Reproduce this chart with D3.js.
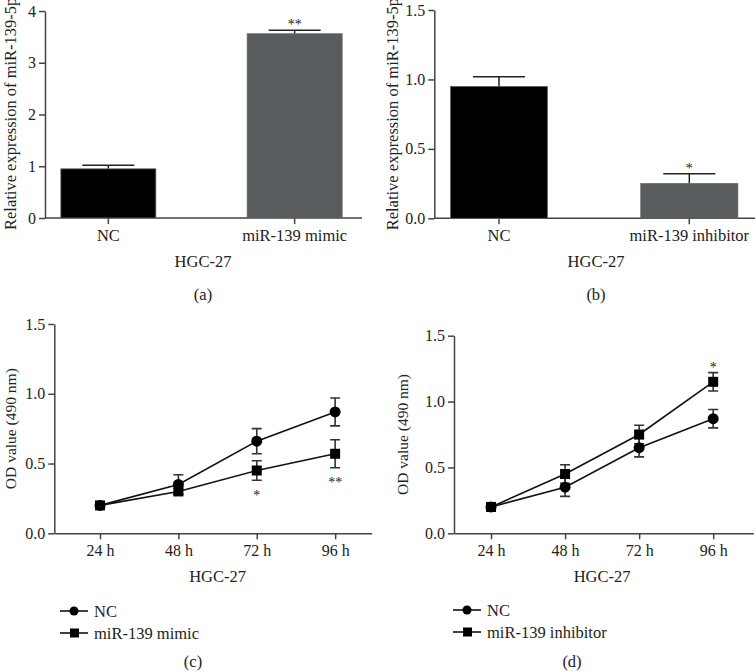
<!DOCTYPE html>
<html><head><meta charset="utf-8">
<script src="https://cdn.jsdelivr.net/npm/d3@7"></script>
<style>body{margin:0;background:#fff}svg{display:block}text{font-family:"Liberation Serif","Times New Roman",serif;fill:#222}</style>
</head><body>
<svg id="c" width="755" height="672"></svg>
<script>
// ---- data ----
const barCatsA = ["NC", "miR-139 mimic"];
const barValsA = [0.95, 3.56];
const barErrA = [0.07, 0.07];
const barStarsA = ["", "**"];
const yTicksA = [0, 1, 2, 3, 4];

const barCatsB = ["NC", "miR-139 inhibitor"];
const barValsB = [0.95, 0.25];
const barErrB = [0.07, 0.07];
const barStarsB = ["", "*"];
const yTicksB = [0, 0.5, 1.0, 1.5];

const hours = [24, 48, 72, 96];
const hourLabels = ["24 h", "48 h", "72 h", "96 h"];
const ncC = [0.20, 0.35, 0.66, 0.87];
const ncErrC = [0, 0.07, 0.09, 0.10];
const mimicC = [0.20, 0.30, 0.45, 0.57];
const mimicErrC = [0, 0.02, 0.07, 0.10];
const starsC = ["", "", "*", "**"];

const ncD = [0.20, 0.35, 0.65, 0.87];
const ncErrD = [0, 0.07, 0.07, 0.07];
const inhD = [0.20, 0.45, 0.75, 1.15];
const inhErrD = [0, 0.07, 0.07, 0.07];
const starsD = ["", "", "", "*"];
const yTicksLine = [0, 0.5, 1.0, 1.5];

const FS = 16.5;
const TFS = 16;
const FONT = '"Liberation Serif","Times New Roman",serif';
const svg = d3.select("#c");
const AX = "#444";

function styleAxis(g, isX) {
  g.attr("font-family", FONT).attr("font-size", isX ? FS : TFS);
  g.selectAll("path").attr("stroke", AX).attr("stroke-width", 1.5);
  g.selectAll("line").attr("stroke", AX).attr("stroke-width", 1.5);
  g.selectAll("text").attr("font-size", isX ? FS : TFS).attr("fill", "#222").attr("font-family", FONT);
}
function txt(g, x, y, s, size) {
  return g.append("text").attr("x", x).attr("y", y).attr("text-anchor", "middle")
    .attr("font-size", size || FS).attr("font-family", FONT).attr("fill", "#222").text(s);
}

function barPanel(o) {
  const g = svg.append("g");
  const y = d3.scaleLinear().domain(o.ydom).range([o.y0, o.y1]);
  const x = d3.scaleBand().domain(o.cats).range([o.xl, o.xr]).paddingInner(0.49).paddingOuter(0.085);
  const ya = g.append("g").attr("transform", `translate(${o.xl},0)`)
    .call(d3.axisLeft(y).tickValues(o.ticks).tickFormat(o.fmt).tickSize(6).tickSizeOuter(0));
  styleAxis(ya, false);
  const xa = g.append("g").attr("transform", `translate(0,${o.y0})`)
    .call(d3.axisBottom(x).tickSize(6).tickSizeOuter(0));
  styleAxis(xa, true);
  xa.select("path").attr("d", `M${o.xl},0H${o.axr}`);
  xa.selectAll("text").attr("dy", "0.85em");
  const colors = ["#000", "#595c5f"];
  o.cats.forEach((c, i) => {
    const cx = x(c) + x.bandwidth() / 2;
    const top = y(o.vals[i] + o.err[i]);
    g.append("line").attr("x1", cx).attr("x2", cx).attr("y1", y(o.vals[i])).attr("y2", top)
      .attr("stroke", "#222").attr("stroke-width", 1.5);
    g.append("line").attr("x1", cx - 26).attr("x2", cx + 26).attr("y1", top).attr("y2", top)
      .attr("stroke", "#222").attr("stroke-width", 1.5);
    g.append("rect").attr("x", x(c)).attr("width", x.bandwidth()).attr("y", y(o.vals[i]))
      .attr("height", y(0) - y(o.vals[i])).attr("fill", colors[i]).attr("stroke", "#666").attr("stroke-width", 0.8);
    if (o.stars[i]) txt(g, cx, top - 1, o.stars[i], 14).attr("fill", "#333");
  });
  g.append("text").attr("transform", `translate(${o.ylx},${o.y0 + 12}) rotate(-90)`).attr("text-anchor", "start")
    .attr("dy", "0.35em").attr("font-size", FS).attr("font-family", FONT).attr("fill", "#222").text(o.ylabel);
  txt(g, o.midx, o.y0 + 49, "HGC-27");
  txt(g, o.midx, o.y0 + 82, o.tag);
}

barPanel({cats: barCatsA, vals: barValsA, err: barErrA, stars: barStarsA, ydom: [0, 4], ticks: yTicksA, fmt: d3.format("d"),
  y0: 218, y1: 11, xl: 45, xr: 358, axr: 362, ylx: 10, midx: 203, ylabel: "Relative expression of miR-139-5p", tag: "(a)"});
barPanel({cats: barCatsB, vals: barValsB, err: barErrB, stars: barStarsB, ydom: [0, 1.5], ticks: yTicksB, fmt: d3.format(".1f"),
  y0: 218.3, y1: 10, xl: 434.3, xr: 754, axr: 755, ylx: 392, midx: 596, ylabel: "Relative expression of miR-139-5p", tag: "(b)"});

function linePanel(o) {
  const g = svg.append("g");
  const y = d3.scaleLinear().domain([0, 1.5]).range([o.y0, o.y1]);
  const x = d3.scaleLinear().domain(o.xdom).range([o.xl, o.xr]);
  const ya = g.append("g").attr("transform", `translate(${o.xl},0)`)
    .call(d3.axisLeft(y).tickValues(yTicksLine).tickFormat(d3.format(".1f")).tickSize(6).tickSizeOuter(0));
  styleAxis(ya, false);
  const xa = g.append("g").attr("transform", `translate(0,${o.y0})`)
    .call(d3.axisBottom(x).tickValues(hours).tickFormat((d, i) => hourLabels[i]).tickSize(6).tickSizeOuter(0));
  styleAxis(xa, false);
  xa.selectAll("text").attr("dy", "0.85em");
  const line = d3.line().x((d, i) => x(hours[i])).y(d => y(d));
  o.series.forEach(s => {
    g.append("path").attr("d", line(s.v)).attr("fill", "none").attr("stroke", "#111").attr("stroke-width", 1.6);
  });
  o.series.forEach(s => {
    s.v.forEach((v, i) => {
      const e = s.e[i];
      if (e > 0) {
        const cx = x(hours[i]);
        g.append("path").attr("d", `M${cx - 5},${y(v + e)}H${cx + 5}M${cx},${y(v + e)}V${y(v - e)}M${cx - 5},${y(v - e)}H${cx + 5}`)
          .attr("stroke", "#333").attr("stroke-width", 1.6).attr("fill", "none");
      }
    });
  });
  o.series.forEach(s => {
    s.v.forEach((v, i) => {
      const cx = x(hours[i]), cy = y(v);
      if (s.shape === "circle") g.append("circle").attr("cx", cx).attr("cy", cy).attr("r", 5.5).attr("fill", "#000");
      else g.append("rect").attr("x", cx - 5).attr("y", cy - 5).attr("width", 10).attr("height", 10).attr("fill", "#000");
    });
  });
  o.stars.forEach((t, i) => {
    if (!t) return;
    txt(g, x(hours[i]), o.starY[i], t, 14).attr("fill", "#333");
  });
  g.append("text").attr("transform", `translate(${o.ylx},${(o.y0 + o.y1) / 2}) rotate(-90)`).attr("text-anchor", "middle")
    .attr("dy", "0.35em").attr("font-size", 15.5).attr("font-family", FONT).attr("fill", "#222").text("OD value (490 nm)");
  const mid = (x(24) + x(96)) / 2;
  txt(g, mid, o.y0 + 49, "HGC-27");
  o.series.forEach((s, k) => {
    const ly = o.legY + k * 22;
    g.append("line").attr("x1", o.legX).attr("x2", o.legX + 28).attr("y1", ly).attr("y2", ly).attr("stroke", "#111").attr("stroke-width", 1.6);
    if (s.shape === "circle") g.append("circle").attr("cx", o.legX + 14).attr("cy", ly).attr("r", 4.5).attr("fill", "#000");
    else g.append("rect").attr("x", o.legX + 10).attr("y", ly - 4.5).attr("width", 9).attr("height", 9).attr("fill", "#000");
    g.append("text").attr("x", o.legX + 34).attr("y", ly).attr("dy", "0.35em").attr("font-size", FS)
      .attr("font-family", FONT).attr("fill", "#222").text(s.name);
  });
  txt(g, o.tagX, o.tagY, o.tag);
}

linePanel({xdom: [10, 107.2], xl: 54.3, xr: 371.7, y0: 533.3, y1: 324, ylx: 11,
  series: [{name: "NC", v: ncC, e: ncErrC, shape: "circle"}, {name: "miR-139 mimic", v: mimicC, e: mimicErrC, shape: "square"}],
  stars: starsC, starY: [0, 0, 500, 487], legX: 60, legY: 611, tag: "(c)", tagX: 193, tagY: 667});
linePanel({xdom: [12, 109], xl: 454, xr: 753.3, y0: 533.3, y1: 335.7, ylx: 403,
  series: [{name: "NC", v: ncD, e: ncErrD, shape: "circle"}, {name: "miR-139 inhibitor", v: inhD, e: inhErrD, shape: "square"}],
  stars: starsD, starY: [0, 0, 0, 372], legX: 453, legY: 610, tag: "(d)", tagX: 572, tagY: 667});
</script>
</body></html>
